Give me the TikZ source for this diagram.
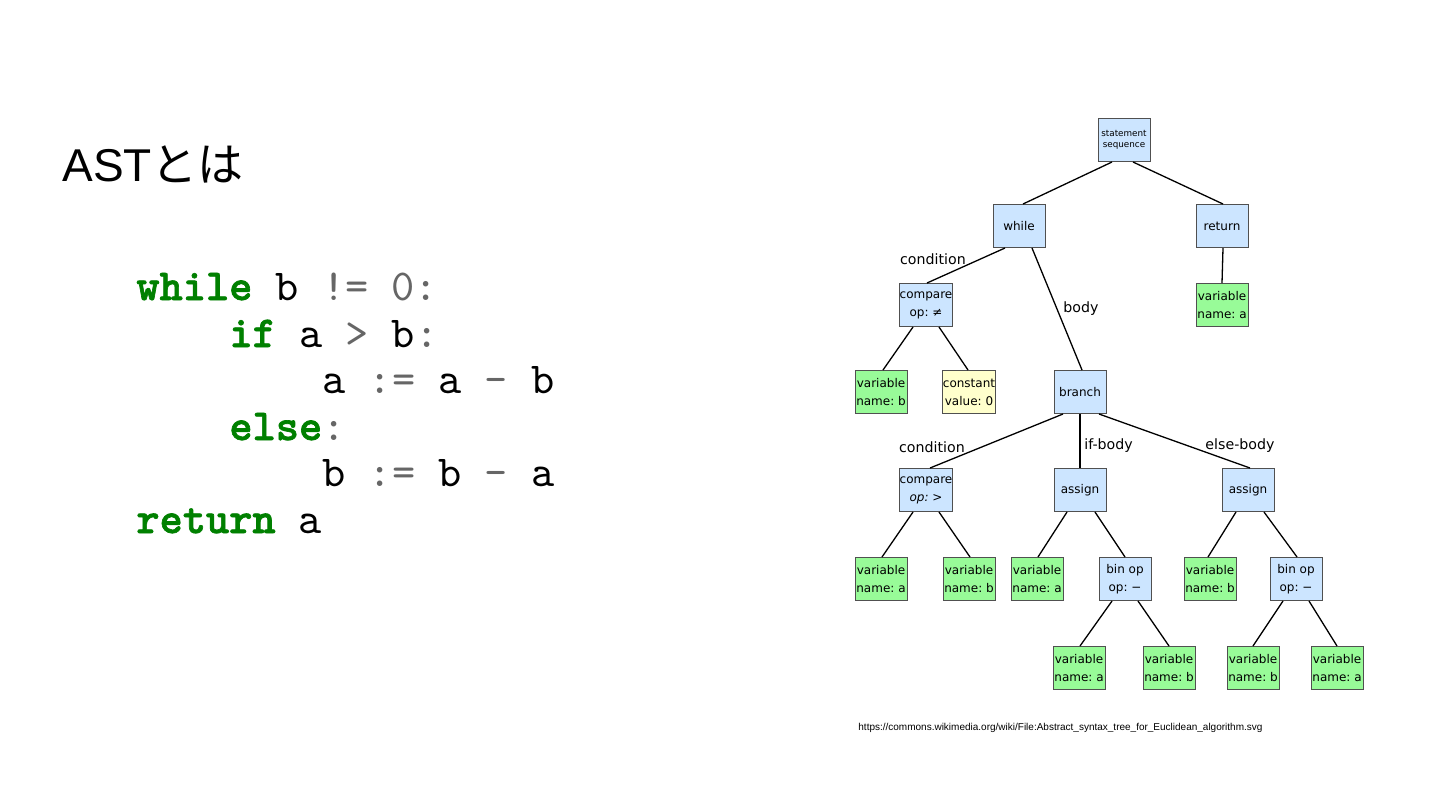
\documentclass[tikz,border=0pt]{standalone}
\usepackage{fontspec}
\setmainfont{Liberation Sans}
\newfontfamily\jpfont{Noto Sans CJK JP}
\newfontfamily\codefont{lmmono10-regular}[Extension=.otf, BoldFont=lmmonolt10-bold, BoldFeatures={FakeBold=1.5}]
\newfontfamily\dvs{DejaVu Sans}
\definecolor{nodeblue}{RGB}{204,229,255}
\definecolor{nodegreen}{RGB}{152,251,152}
\definecolor{nodeyellow}{RGB}{255,255,204}
\definecolor{boxline}{RGB}{80,80,80}
\definecolor{kwgreen}{RGB}{0,128,0}
\definecolor{opgray}{RGB}{102,102,102}
\newcommand{\kw}[1]{\textcolor{kwgreen}{\bfseries #1}}
\newcommand{\opg}[1]{\textcolor{opgray}{#1}}
\frenchspacing
\begin{document}
\begin{tikzpicture}[x=0.5pt,y=-0.5pt,
  box/.style={draw=boxline, line width=0.5pt, minimum width=26pt, minimum height=21.5pt,
    inner sep=0pt, align=center, font=\dvs\fontsize{6}{9}\selectfont},
  bnode/.style={box, fill=nodeblue},
  gnode/.style={box, fill=nodegreen},
  ynode/.style={box, fill=nodeyellow},
  edge/.style={line width=0.65pt},
  elabel/.style={font=\dvs\fontsize{7.1}{8}\selectfont, inner sep=0pt},
  code/.style={anchor=base west, inner sep=0pt, font=\codefont\fontsize{22.1}{24}\selectfont}]
\path[fill=white] (0,0) rectangle (1440,810);
\useasboundingbox (0,0) rectangle (1440,810);

% title
\node[anchor=base west, inner sep=0pt, font=\fontsize{23}{26}\selectfont] (title) at (62,181) {AST{\jpfont とは}};

% code
\node[code] (l1) at (136,300) {\kw{while} b \opg{!= 0:}};
\node[code] (l2) at (229,347) {\kw{if} a \opg{>} b\opg{:}};
\node[code] (l3) at (322,393) {a \opg{:=} a \opg{-} b};
\node[code] (l4) at (229,440) {\kw{else}\opg{:}};
\node[code] (l5) at (322,486) {b \opg{:=} b \opg{-} a};
\node[code] (l6) at (136,533) {\kw{return} a};

% tree nodes
\node[bnode, font=\dvs\fontsize{4.4}{5.6}\selectfont] (seq) at (1124,140) {statement\\sequence};
\node[bnode] (while) at (1019,226) {while};
\node[bnode] (ret) at (1222,226) {return};
\node[bnode] (cmp1) at (926,305) {compare\\op: ≠};
\node[gnode] (rva) at (1222,305) {variable\\name: a};
\node[gnode] (cvb) at (881,392) {variable\\name: b};
\node[ynode] (const) at (969,392) {constant\\value: 0};
\node[bnode] (branch) at (1080,392) {branch};
\node[bnode] (cmp2) at (926,490) {compare\\\textit{op: >}};
\node[bnode] (as1) at (1080,490) {assign};
\node[bnode] (as2) at (1248,490) {assign};
\node[gnode] (v1) at (881,579) {variable\\name: a};
\node[gnode] (v2) at (969,579) {variable\\name: b};
\node[gnode] (v3) at (1037,579) {variable\\name: a};
\node[bnode] (bin1) at (1125,579) {bin op\\op: −};
\node[gnode] (v4) at (1210,579) {variable\\name: b};
\node[bnode] (bin2) at (1296,579) {bin op\\op: −};
\node[gnode] (v5) at (1079,668) {variable\\name: a};
\node[gnode] (v6) at (1169,668) {variable\\name: b};
\node[gnode] (v7) at (1253,668) {variable\\name: b};
\node[gnode] (v8) at (1337,668) {variable\\name: a};

% edges
\draw[edge] ([shift={(-12,0)}]seq.south) -- ([shift={(4,0)}]while.north);
\draw[edge] ([shift={(9,0)}]seq.south) -- ([shift={(1,0)}]ret.north);
\draw[edge] ([shift={(-14,0)}]while.south) -- ([shift={(1,0)}]cmp1.north);
\draw[edge] ([shift={(13,0)}]while.south) -- ([shift={(2,0)}]branch.north);
\draw[edge] ([shift={(1,0)}]ret.south) -- (rva.north);
\draw[edge] ([shift={(-13,0)}]cmp1.south) -- ([shift={(2,0)}]cvb.north);
\draw[edge] ([shift={(13,0)}]cmp1.south) -- ([shift={(-1,0)}]const.north);
\draw[edge] ([shift={(-17,0)}]branch.south) -- ([shift={(4,0)}]cmp2.north);
\draw[edge] (branch.south) -- (as1.north);
\draw[edge] ([shift={(19,0)}]branch.south) -- ([shift={(2,0)}]as2.north);
\draw[edge] ([shift={(-13,0)}]cmp2.south) -- ([shift={(1,0)}]v1.north);
\draw[edge] ([shift={(13,0)}]cmp2.south) -- ([shift={(1,0)}]v2.north);
\draw[edge] ([shift={(-13,0)}]as1.south) -- ([shift={(1,0)}]v3.north);
\draw[edge] ([shift={(15,0)}]as1.south) -- (bin1.north);
\draw[edge] ([shift={(-12,0)}]as2.south) -- ([shift={(-2,0)}]v4.north);
\draw[edge] ([shift={(16,0)}]as2.south) -- ([shift={(1,0)}]bin2.north);
\draw[edge] ([shift={(-13,0)}]bin1.south) -- ([shift={(1,0)}]v5.north);
\draw[edge] ([shift={(13,0)}]bin1.south) -- (v6.north);
\draw[edge] ([shift={(-13,0)}]bin2.south) -- (v7.north);
\draw[edge] ([shift={(13,0)}]bin2.south) -- (v8.north);

% edge labels
\node[elabel] (lc1) at (933,259) {condition};
\node[elabel, anchor=west] (lb) at (1063,309) {body};
\node[elabel] (lc2) at (932,447) {condition};
\node[elabel, anchor=west] (lif) at (1084,446) {if-body};
\node[elabel] (lelse) at (1240,446) {else-body};

% source
\node[anchor=base west, inner sep=0pt, font=\fontsize{5}{6}\selectfont] (src) at (858,730) {https://commons.wikimedia.org/wiki/File:Abstract\_syntax\_tree\_for\_Euclidean\_algorithm.svg};
\end{tikzpicture}
\end{document}
